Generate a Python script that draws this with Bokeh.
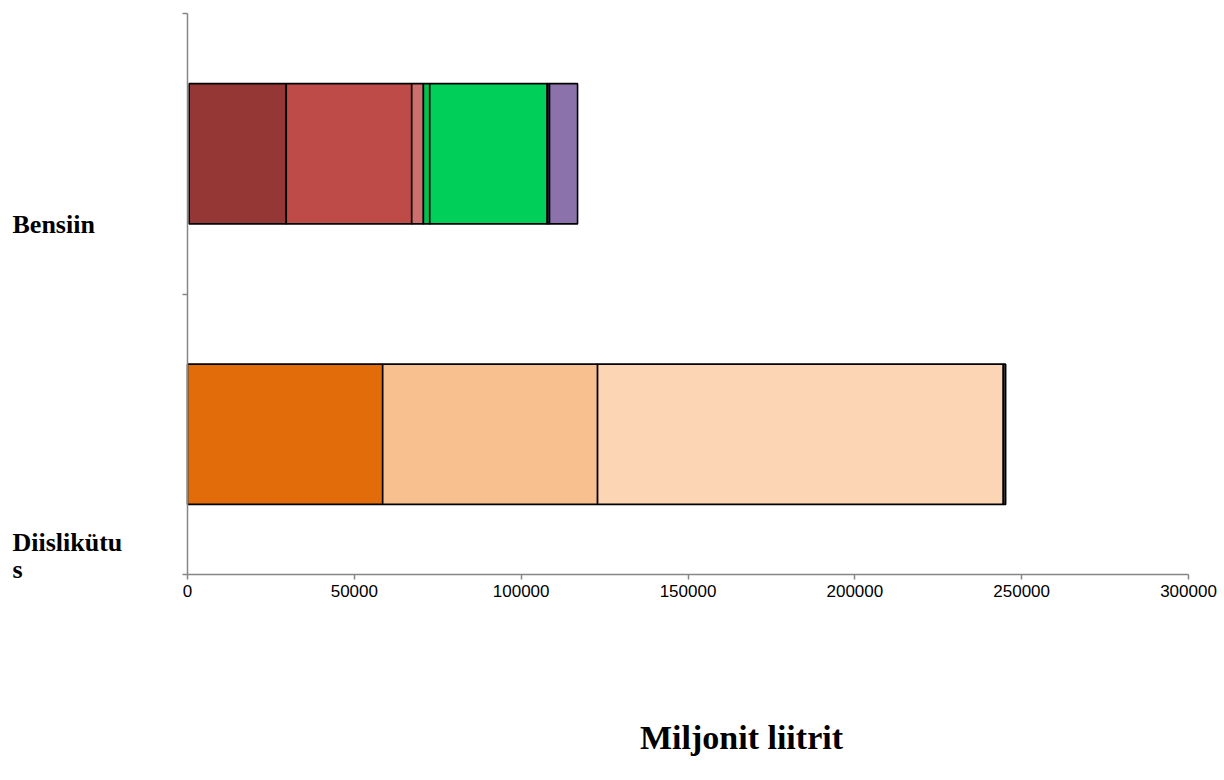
from bokeh.plotting import figure
from bokeh.models import Range1d, FixedTicker, Label, ColumnDataSource
from bokeh.embed import file_html
from bokeh.resources import INLINE

# Data (million litres)
categories = ["Diislikütus", "Bensiin"]
cat_pos = [0.5, 1.5]

bensiin_values = [500, 29100, 37600, 3500, 1900, 35200, 700, 8400]
bensiin_colors = ["#FFFFFF", "#953735", "#BE4B48", "#CD6F6D", "#00C050", "#00D05A", "#3C2A5A", "#8C72AB"]

diisel_values = [58500, 64400, 121600, 700]
diisel_colors = ["#E36C0A", "#F9C08F", "#FCD5B5", "#404040"]

x_ticks = [0, 50000, 100000, 150000, 200000, 250000, 300000]
x_max = 300000
x_title = "Miljonit liitrit"

# page layout (pixels): plot area of the original chart
W, H = 1224, 780
AX_L, AX_R, AX_T, AX_B = 187, 1188, 13, 574
px_x = (AX_R - AX_L) / x_max
px_y = (AX_B - AX_T) / 2.0

x_range = Range1d(-AX_L / px_x, x_max + (W - AX_R) / px_x)
y_range = Range1d(-(H - AX_B) / px_y, 2 + AX_T / px_y)

p = figure(width=W, height=H, output_backend="svg", toolbar_location=None,
           x_range=x_range, y_range=y_range,
           min_border=0, min_border_left=0, min_border_right=0, min_border_top=0, min_border_bottom=0)
p.outline_line_color = None
p.grid.visible = False


def stack(values, colors, y):
    left, right = [], []
    acc = 0
    for v in values:
        left.append(acc)
        acc += v
        right.append(acc)
    first_hidden = colors[0] == "#FFFFFF"
    alpha = [0.0 if (i == 0 and first_hidden) else 1.0 for i in range(len(values))]
    src = ColumnDataSource(dict(left=left, right=right, y=[y] * len(values), color=colors, a=alpha))
    p.hbar(y="y", left="left", right="right", height=0.5, source=src, fill_color="color",
           fill_alpha="a", line_color="black", line_alpha="a", line_width=1.6)


stack(bensiin_values, bensiin_colors, cat_pos[1])
stack(diisel_values, diisel_colors, cat_pos[0])

# axes drawn inside the frame
axis_grey = "#868686"
p.xaxis.fixed_location = 0
p.xaxis.bounds = (0, x_max)
p.xaxis.ticker = FixedTicker(ticks=x_ticks)
p.xaxis.major_label_overrides = {t: str(t) for t in x_ticks}
p.xaxis.axis_line_color = axis_grey
p.xaxis.axis_line_width = 1.5
p.xaxis.major_tick_line_color = axis_grey
p.xaxis.major_tick_line_width = 1.5
p.xaxis.major_tick_in = 0
p.xaxis.major_tick_out = 5
p.xaxis.minor_tick_line_color = None
p.xaxis.major_label_text_font = "Liberation Sans"
p.xaxis.major_label_text_font_size = "17px"
p.xaxis.major_label_text_color = "black"
p.xaxis.major_label_standoff = 5

p.yaxis.fixed_location = 0
p.yaxis.bounds = (0, 2)
p.yaxis.ticker = FixedTicker(ticks=[0, 1, 2])
p.yaxis.major_label_text_font_size = "0px"
p.yaxis.major_label_text_alpha = 0
p.yaxis.axis_line_color = axis_grey
p.yaxis.axis_line_width = 1.5
p.yaxis.major_tick_line_color = axis_grey
p.yaxis.major_tick_line_width = 1.5
p.yaxis.major_tick_in = 0
p.yaxis.major_tick_out = 5
p.yaxis.minor_tick_line_color = None

# category labels and axis title, positioned like the original (screen units)
font = "Liberation Serif"
common = dict(x_units="screen", y_units="screen", text_font=font, text_font_style="bold",
              text_baseline="alphabetic", text_color="black")
lab1 = Label(x=12, y=H - 224, text=categories[1], text_font_size="26px", **common)
lab2a = Label(x=12, y=H - 542, text=categories[0][:-1], text_font_size="26px", **common)
lab2b = Label(x=12, y=H - 569, text=categories[0][-1:], text_font_size="26px", **common)
title = Label(x=741, y=H - 737, text=x_title, text_font_size="34px", text_align="center", **common)
for l in (lab1, lab2a, lab2b, title):
    p.add_layout(l)

open("out.html", "w").write(file_html(p, INLINE))
